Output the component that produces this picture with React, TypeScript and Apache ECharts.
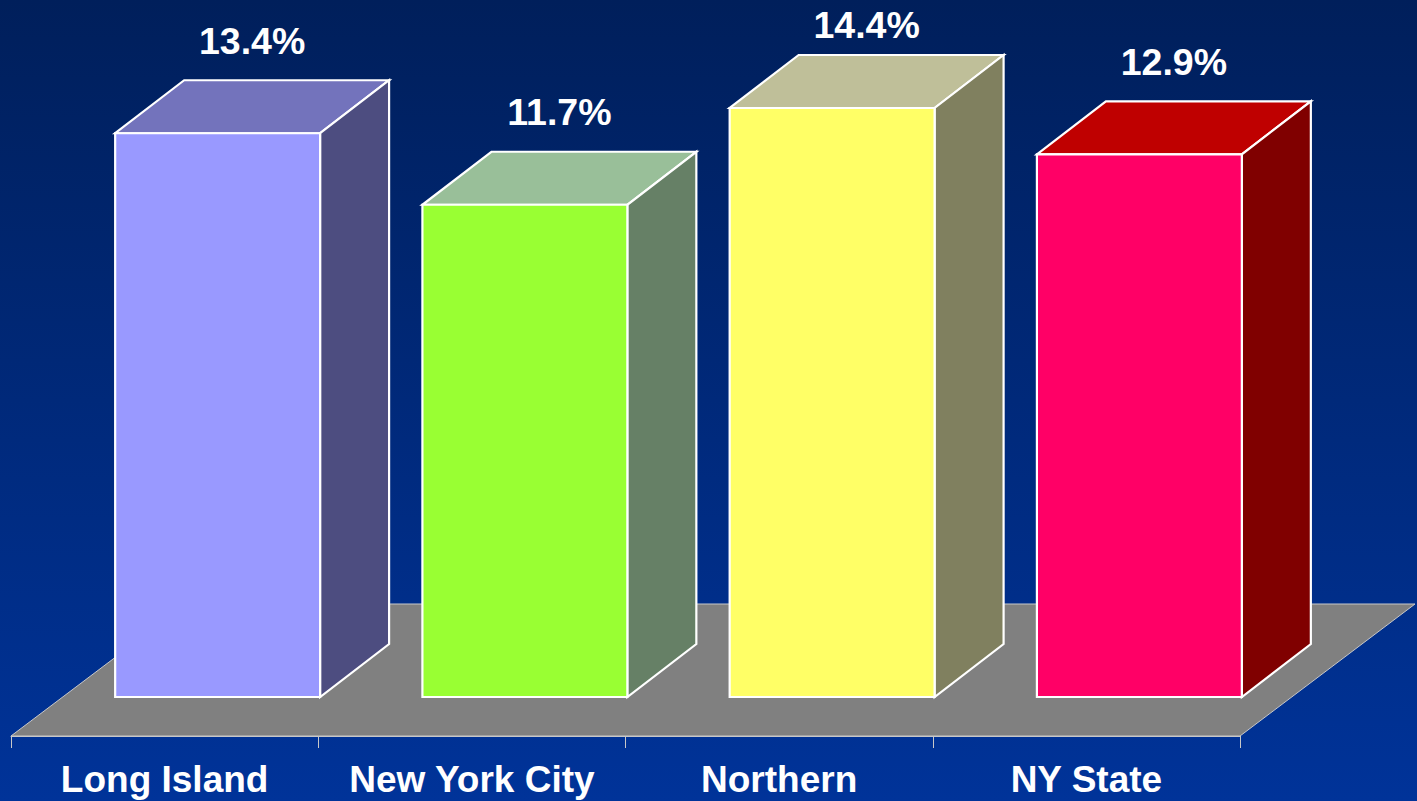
import React, { useEffect, useRef } from "react";
import * as echarts from "echarts";

const categories = ["Long Island", "New York City", "Northern", "NY State"];
const values = [13.4, 11.7, 14.4, 12.9];
const valueLabels = ["13.4%", "11.7%", "14.4%", "12.9%"];
const frontColors = ["#9999FF", "#99FF33", "#FFFF66", "#FF0066"];
const topColors = ["#7373BC", "#99BF99", "#BFBF99", "#BF0000"];
const sideColors = ["#4D4D80", "#668066", "#80805F", "#800000"];
const Y_MAX = 14;

// 3D geometry (pixels)
const FLOOR_DX = 175;
const FLOOR_DY = 132;
const BAR_OX = 53; // front face offset from floor front edge
const BAR_OY = 39;
const BAR_DX = 69; // bar depth
const BAR_DY = 53;
const BAR_FRAC = 0.667;
const FONT = 'bold 37.5px "Liberation Sans", Arial, sans-serif';

export default function App() {
  const ref = useRef<HTMLDivElement>(null);
  useEffect(() => {
    document.body.style.margin = "0";
    const chart = echarts.init(ref.current!, null, { renderer: "svg" });
    const floorItem = (params: any, api: any) => {
      const cs = params.coordSys;
      const x0 = cs.x;
      const x1 = cs.x + cs.width;
      const y = cs.y + cs.height;
      return {
        type: "polygon",
        shape: {
          points: [
            [x0, y],
            [x1, y],
            [x1 + FLOOR_DX, y - FLOOR_DY],
            [x0 + FLOOR_DX, y - FLOOR_DY],
          ],
        },
        style: { fill: "#808080", stroke: "#C8C8C8", lineWidth: 1 },
      };
    };
    const barItem = (params: any, api: any) => {
      const idx = api.value(0);
      const v = api.value(1);
      const base = api.coord([idx, 0]);
      const top = api.coord([idx, Math.min(v, Y_MAX)]);
      const catW = api.size([1, 0])[0];
      const bw = catW * BAR_FRAC;
      const l = base[0] - bw / 2 + BAR_OX;
      const r = l + bw;
      const yb = base[1] - BAR_OY;
      const yt = top[1] - BAR_OY;
      const edge = { stroke: "#FFFFFF", lineWidth: 2.2, lineJoin: "miter" };
      const labelY = Math.max(yt - BAR_DY - 39.5, 24.5);
      return {
        type: "group",
        children: [
          {
            type: "polygon",
            shape: { points: [[l, yt], [r, yt], [r + BAR_DX, yt - BAR_DY], [l + BAR_DX, yt - BAR_DY]] },
            style: { fill: topColors[idx], ...edge },
          },
          {
            type: "polygon",
            shape: { points: [[r, yt], [r, yb], [r + BAR_DX, yb - BAR_DY], [r + BAR_DX, yt - BAR_DY]] },
            style: { fill: sideColors[idx], ...edge },
          },
          {
            type: "rect",
            shape: { x: l, y: yt, width: bw, height: yb - yt },
            style: { fill: frontColors[idx], ...edge },
          },
          {
            type: "text",
            x: (l + r) / 2 + BAR_DX / 2,
            y: labelY,
            style: {
              text: valueLabels[idx],
              fill: "#FFFFFF",
              font: FONT,
              align: "center",
              verticalAlign: "middle",
            },
          },
        ],
      };
    };
    chart.setOption({
      animation: false,
      backgroundColor: new echarts.graphic.LinearGradient(0, 0, 0, 1, [
        { offset: 0, color: "#001F5B" },
        { offset: 1, color: "#003399" },
      ]),
      grid: { left: 11, right: 177, top: 147, bottom: 65, containLabel: false },
      xAxis: {
        type: "category",
        data: categories,
        boundaryGap: true,
        axisLine: { show: true, lineStyle: { color: "#C8C8C8", width: 1 } },
        axisTick: { show: true, length: 12, lineStyle: { color: "#C8C8C8", width: 1 } },
        axisLabel: {
          color: "#FFFFFF",
          fontFamily: '"Liberation Sans", Arial, sans-serif',
          fontWeight: "bold",
          fontSize: 37,
          lineHeight: 37,
          margin: 25,
          verticalAlign: "top",
          interval: 0,
        },
        z: 5,
      },
      yAxis: { type: "value", min: 0, max: Y_MAX, show: false, splitLine: { show: false } },
      series: [
        { type: "custom", renderItem: floorItem, data: [[0]], clip: false, z: 1, silent: true },
        {
          type: "custom",
          renderItem: barItem,
          data: values.map((v, i) => [i, v]),
          encode: { x: 0, y: 1 },
          clip: false,
          z: 3,
        },
      ],
    });
    return () => chart.dispose();
  }, []);
  return <div ref={ref} style={{ width: 1417, height: 801 }} />;
}
